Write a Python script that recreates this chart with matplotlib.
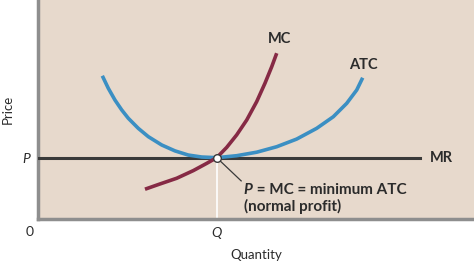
import numpy as np
import matplotlib
matplotlib.use("Agg")
import matplotlib.pyplot as plt

# curve points (arbitrary units, axes span 0..10)
atc_q = [1.475, 1.612, 1.766, 1.920, 2.071, 2.300, 2.530, 2.837, 3.142, 3.447, 3.755,
         4.099, 4.557, 5.016, 5.475, 5.933, 6.392, 6.773, 7.080, 7.310, 7.447]
atc_c = [6.54, 5.97, 5.43, 4.98, 4.60, 4.14, 3.76, 3.38, 3.11, 2.92, 2.83,
         2.80, 2.89, 3.05, 3.30, 3.65, 4.14, 4.67, 5.28, 5.89, 6.45]

mc_q = [2.454, 2.798, 3.181, 3.562, 3.869, 4.099, 4.328, 4.557, 4.787, 5.016, 5.206, 5.360, 5.475]
mc_c = [1.36, 1.60, 1.86, 2.21, 2.54, 2.80, 3.27, 3.84, 4.52, 5.36, 6.20, 6.95, 7.57]

P = 2.80
Q = 4.099
mr_end = 8.76

bg = "#e7d9cc"
blue = "#3b8fc3"
maroon = "#862a45"
dark = "#3a3a3a"
axis_gray = "#8e8e8e"
txt = "#2b2b2b"

plt.rcParams["font.family"] = ["Lato", "DejaVu Sans"]

fig = plt.figure(figsize=(4.74, 2.61), dpi=100)
fig.patch.set_facecolor("white")
ax = fig.add_axes([38 / 474, 42 / 261, 436 / 474, 219 / 261])
ax.set_facecolor(bg)
ax.set_xlim(0, 10)
ax.set_ylim(0, 10)

for s in ["top", "right"]:
    ax.spines[s].set_visible(False)
for s in ["left", "bottom"]:
    ax.spines[s].set_color(axis_gray)
    ax.spines[s].set_linewidth(2.5)

# white drop line from the equilibrium point
ax.plot([Q, Q], [0, P], color="white", lw=1.2, zorder=2)

ax.plot([0, mr_end], [P, P], color=dark, lw=2.2, zorder=3)
ax.plot(atc_q, atc_c, color=blue, lw=2.6, solid_capstyle="butt", solid_joinstyle="round", zorder=4)
ax.plot(mc_q, mc_c, color=maroon, lw=2.6, solid_capstyle="butt", solid_joinstyle="round", zorder=4)
ax.plot([Q], [P], "o", ms=5.5, mfc="white", mec=dark, mew=1.0, zorder=6)

# leader line to annotation
ax.plot([Q, 4.66], [P, 1.74], color=dark, lw=0.9, zorder=5)

lab = dict(fontsize=10.5, fontweight="bold", color=txt)
ax.text(5.53, 8.2, "MC", ha="center", va="center", **lab)
ax.text(7.47, 7.02, "ATC", ha="center", va="center", **lab)
ax.text(8.98, P, "MR", ha="left", va="center", **lab)

ann = dict(fontsize=11, fontweight="bold", color=txt)
p_txt = ax.text(4.72, 1.32, "P", ha="left", va="center", fontstyle="italic", **ann)
ax.annotate(" = MC = minimum ATC", xy=(1, 0.5), xycoords=p_txt,
            ha="left", va="center", **ann)
ax.text(4.72, 0.55, "(normal profit)", ha="left", va="center", **ann)

ax.set_xticks([Q])
ax.set_xticklabels(["Q"], fontstyle="italic", fontsize=10)
ax.set_yticks([P])
ax.set_yticklabels(["P"], fontstyle="italic", fontsize=10)
ax.tick_params(length=0, pad=6, colors=txt)
ax.text(-0.2, -0.6, "0", ha="center", va="center", fontsize=10, color=txt, clip_on=False)

ax.set_xlabel("Quantity", fontsize=9.5, color=txt, labelpad=7)
ax.set_ylabel("Price", fontsize=9.5, color=txt)
ax.yaxis.set_label_coords(-0.056, 0.5)

fig.savefig("out.png", dpi=100, facecolor="white")
